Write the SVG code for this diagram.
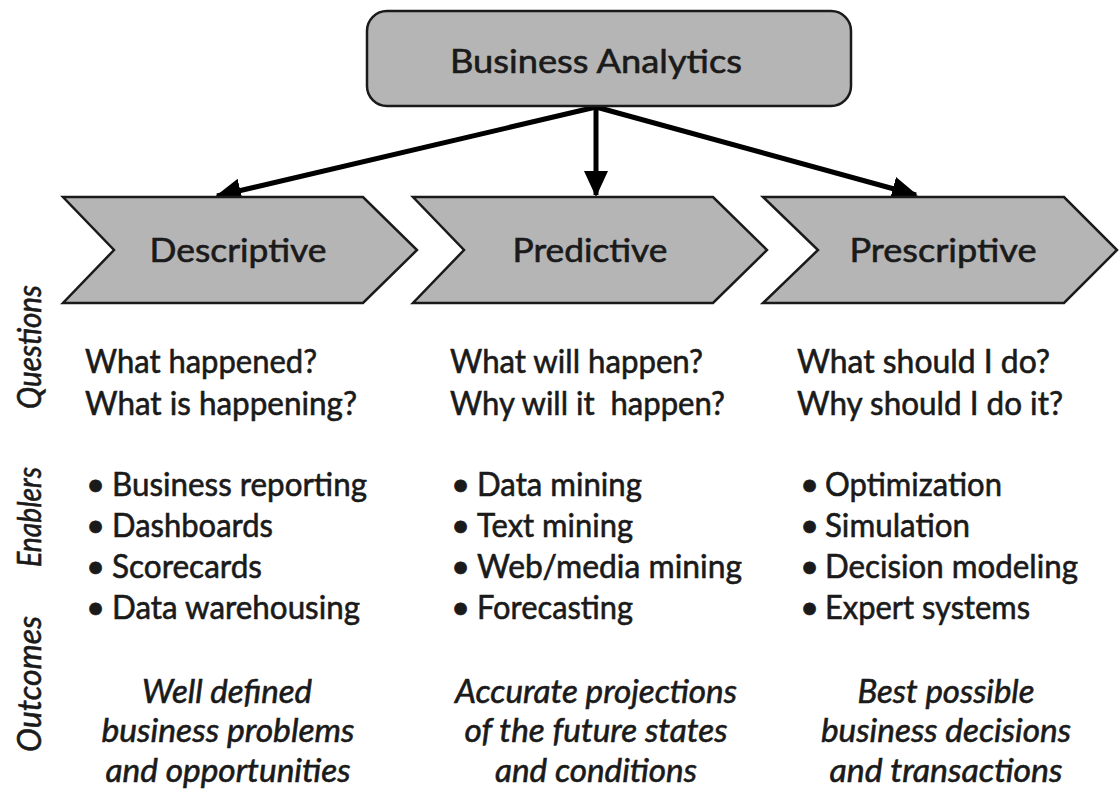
<svg xmlns="http://www.w3.org/2000/svg" width="1119" height="808" viewBox="0 0 1119 808">
<style>
.shape{fill:#b5b5b5;stroke:#1a1a1a;stroke-width:2.5;stroke-linejoin:miter}
.t{font-family:Lato,"Open Sans","DejaVu Sans",sans-serif;fill:#1a1a1a;stroke:#1a1a1a;stroke-width:0.6;font-size:33px}
.i{font-style:italic}
.c{text-anchor:middle}
.conn{stroke:#000;stroke-width:5;fill:none}
</style>
<defs>
<marker id="ah" markerUnits="userSpaceOnUse" markerWidth="26" markerHeight="24" viewBox="0 0 26 24" refX="24" refY="12" orient="auto">
<path d="M0,0 L26,12 L0,24 Z" fill="#000"/>
</marker>
</defs>
<rect width="1119" height="808" fill="#fff"/>

<g id="connectors">
<line class="conn" x1="596" y1="107" x2="217" y2="196" marker-end="url(#ah)"/>
<line class="conn" x1="596" y1="107" x2="596" y2="195" stroke-width="4" marker-end="url(#ah)"/>
<line class="conn" x1="596" y1="107" x2="916" y2="195" marker-end="url(#ah)"/>
</g>

<g id="business-analytics">
<rect class="shape" x="367" y="11" width="484" height="95" rx="20" ry="20"/>
<text class="t c" x="596" y="73" textLength="292" lengthAdjust="spacingAndGlyphs">Business Analytics</text>
</g>

<g id="descriptive">
<polygon class="shape" points="63,197 363,197 417,250 363,303 63,303 114,250"/>
<text class="t c" x="238" y="262" textLength="177" lengthAdjust="spacingAndGlyphs">Descriptive</text>
</g>
<g id="predictive">
<polygon class="shape" points="413,197 713,197 767,250 713,303 413,303 464,250"/>
<text class="t c" x="590" y="262" textLength="155" lengthAdjust="spacingAndGlyphs">Predictive</text>
</g>
<g id="prescriptive">
<polygon class="shape" points="763,197 1064,197 1117,250 1064,303 763,303 818,250"/>
<text class="t c" x="943" y="262" textLength="187" lengthAdjust="spacingAndGlyphs">Prescriptive</text>
</g>

<g id="row-labels">
<text class="t i c" transform="translate(41,347) rotate(-90)" textLength="124" lengthAdjust="spacingAndGlyphs">Questions</text>
<text class="t i c" transform="translate(41,517) rotate(-90)" textLength="100" lengthAdjust="spacingAndGlyphs">Enablers</text>
<text class="t i c" transform="translate(41,684) rotate(-90)" textLength="136" lengthAdjust="spacingAndGlyphs">Outcomes</text>
</g>

<g id="descriptive-details">
<text class="t" x="85" y="373" textLength="232" lengthAdjust="spacingAndGlyphs">What happened?</text>
<text class="t" x="85" y="415" textLength="272" lengthAdjust="spacingAndGlyphs">What is happening?</text>
<text class="t" x="86" y="496">•</text><text class="t" x="112" y="496" textLength="255" lengthAdjust="spacingAndGlyphs">Business reporting</text>
<text class="t" x="86" y="537">•</text><text class="t" x="112" y="537" textLength="161" lengthAdjust="spacingAndGlyphs">Dashboards</text>
<text class="t" x="86" y="578">•</text><text class="t" x="112" y="578" textLength="150" lengthAdjust="spacingAndGlyphs">Scorecards</text>
<text class="t" x="86" y="619">•</text><text class="t" x="112" y="619" textLength="248" lengthAdjust="spacingAndGlyphs">Data warehousing</text>
<text class="t i c" x="227" y="703" textLength="170" lengthAdjust="spacingAndGlyphs">Well defined</text>
<text class="t i c" x="228" y="742" textLength="253" lengthAdjust="spacingAndGlyphs">business problems</text>
<text class="t i c" x="228" y="782" textLength="245" lengthAdjust="spacingAndGlyphs">and opportunities</text>
</g>

<g id="predictive-details">
<text class="t" x="450" y="373" textLength="253" lengthAdjust="spacingAndGlyphs">What will happen?</text>
<text class="t" x="450" y="415" textLength="275" lengthAdjust="spacingAndGlyphs">Why will it&#160; happen?</text>
<text class="t" x="451" y="496">•</text><text class="t" x="477" y="496" textLength="165" lengthAdjust="spacingAndGlyphs">Data mining</text>
<text class="t" x="451" y="537">•</text><text class="t" x="477" y="537" textLength="156" lengthAdjust="spacingAndGlyphs">Text mining</text>
<text class="t" x="451" y="578">•</text><text class="t" x="477" y="578" textLength="265" lengthAdjust="spacingAndGlyphs">Web/media mining</text>
<text class="t" x="451" y="619">•</text><text class="t" x="477" y="619" textLength="156" lengthAdjust="spacingAndGlyphs">Forecasting</text>
<text class="t i c" x="596" y="703" textLength="282" lengthAdjust="spacingAndGlyphs">Accurate projections</text>
<text class="t i c" x="596" y="742" textLength="263" lengthAdjust="spacingAndGlyphs">of the future states</text>
<text class="t i c" x="596" y="782" textLength="202" lengthAdjust="spacingAndGlyphs">and conditions</text>
</g>

<g id="prescriptive-details">
<text class="t" x="797" y="373" textLength="253" lengthAdjust="spacingAndGlyphs">What should I do?</text>
<text class="t" x="797" y="415" textLength="266" lengthAdjust="spacingAndGlyphs">Why should I do it?</text>
<text class="t" x="800" y="496">•</text><text class="t" x="825" y="496" textLength="177" lengthAdjust="spacingAndGlyphs">Optimization</text>
<text class="t" x="800" y="537">•</text><text class="t" x="825" y="537" textLength="145" lengthAdjust="spacingAndGlyphs">Simulation</text>
<text class="t" x="800" y="578">•</text><text class="t" x="825" y="578" textLength="253" lengthAdjust="spacingAndGlyphs">Decision modeling</text>
<text class="t" x="800" y="619">•</text><text class="t" x="825" y="619" textLength="205" lengthAdjust="spacingAndGlyphs">Expert systems</text>
<text class="t i c" x="946" y="703" textLength="177" lengthAdjust="spacingAndGlyphs">Best possible</text>
<text class="t i c" x="946" y="742" textLength="250" lengthAdjust="spacingAndGlyphs">business decisions</text>
<text class="t i c" x="946" y="782" textLength="233" lengthAdjust="spacingAndGlyphs">and transactions</text>
</g>
</svg>
